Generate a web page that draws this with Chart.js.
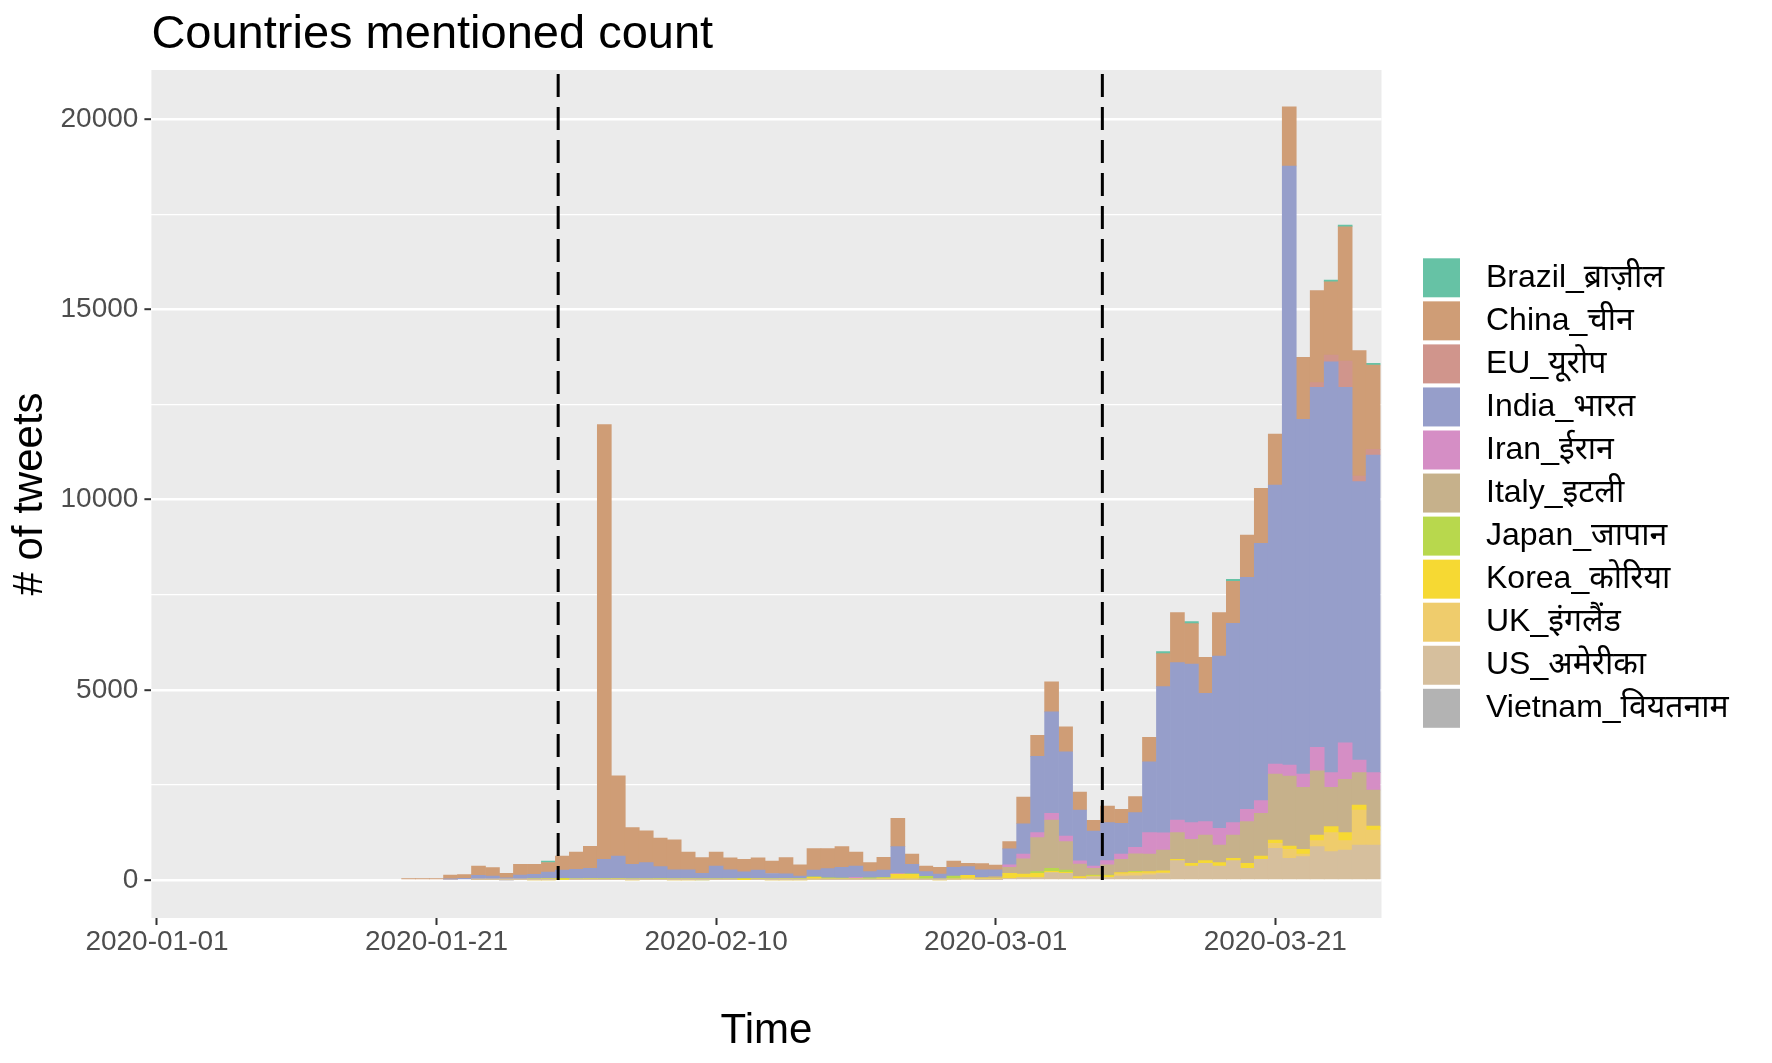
<!DOCTYPE html>
<html>
<head>
<meta charset="utf-8">
<title>Countries mentioned count</title>
<script src="https://cdn.jsdelivr.net/npm/chart.js@4"></script>
<style>
  html, body { margin: 0; padding: 0; background: #ffffff; }
  #wrap { width: 1772px; height: 1063px; }
</style>
</head>
<body>
<div id="wrap"><canvas id="chart" width="1772" height="1063"></canvas></div>
<script>
// ── Data ─────────────────────────────────────────────────────
// one bar per day, 2020-01-19 .. 2020-03-28
const dates = [
  '2020-01-19','2020-01-20','2020-01-21','2020-01-22','2020-01-23','2020-01-24','2020-01-25','2020-01-26','2020-01-27','2020-01-28',
  '2020-01-29','2020-01-30','2020-01-31','2020-02-01','2020-02-02','2020-02-03','2020-02-04','2020-02-05','2020-02-06','2020-02-07',
  '2020-02-08','2020-02-09','2020-02-10','2020-02-11','2020-02-12','2020-02-13','2020-02-14','2020-02-15','2020-02-16','2020-02-17',
  '2020-02-18','2020-02-19','2020-02-20','2020-02-21','2020-02-22','2020-02-23','2020-02-24','2020-02-25','2020-02-26','2020-02-27',
  '2020-02-28','2020-02-29','2020-03-01','2020-03-02','2020-03-03','2020-03-04','2020-03-05','2020-03-06','2020-03-07','2020-03-08',
  '2020-03-09','2020-03-10','2020-03-11','2020-03-12','2020-03-13','2020-03-14','2020-03-15','2020-03-16','2020-03-17','2020-03-18',
  '2020-03-19','2020-03-20','2020-03-21','2020-03-22','2020-03-23','2020-03-24','2020-03-25','2020-03-26','2020-03-27','2020-03-28',
];

const countries = [
  'Brazil_ब्राज़ील', 'China_चीन', 'EU_यूरोप', 'India_भारत', 'Iran_ईरान', 'Italy_इटली',
  'Japan_जापान', 'Korea_कोरिया', 'UK_इंगलैंड', 'US_अमेरीका', 'Vietnam_वियतनाम',
];
const colors = [
  '#66C2A5', '#CF9D76', '#D0958C', '#969ECA', '#D58EC5', '#C6B18B',
  '#B8D84D', '#F6D933', '#EFCC6C', '#D6BF9D', '#B3B3B3',
];

const brazil = [
  0,0,0,0,0,0,0,0,0,0,
  40,0,0,0,0,0,0,0,0,0,
  0,0,0,0,0,0,0,0,0,0,
  0,0,0,0,0,0,0,0,0,0,
  0,0,0,0,0,0,0,0,0,0,
  0,0,0,0,50,0,50,0,0,50,
  0,0,0,0,0,0,44,44,0,44,
];
const china = [
  35,35,40,110,95,245,220,115,282,262,
  250,368,457,579,11426,2105,965,834,749,785,
  465,415,369,310,330,317,330,427,295,561,
  524,544,369,237,333,745,272,149,175,167,
  88,160,124,190,700,556,792,658,470,280,
  438,368,420,639,870,1315,1063,947,1139,1107,
  1113,1446,1341,1560,1631,2418,1927,3531,3295,2217,
];
const eu = [
  0,0,0,0,0,0,0,0,0,0,
  0,0,0,0,0,0,0,0,0,0,
  0,0,0,0,0,0,0,0,0,0,
  0,0,0,0,0,0,0,0,0,0,
  0,0,0,0,0,0,0,0,0,0,
  0,0,0,0,0,0,0,0,0,0,
  0,0,0,0,0,123,176,692,149,149,
];
const india = [
  0,0,0,20,45,110,95,55,115,115,
  165,220,240,265,500,590,380,420,310,230,
  230,140,330,230,180,220,130,125,60,180,
  240,280,300,160,200,700,250,120,130,230,
  230,200,180,420,797,2006,2668,2216,1336,920,
  997,806,910,1866,3842,4136,4171,3374,4531,5240,
  6100,6766,7336,15748,9324,9466,10805,9343,7318,8352,
];
const iran = [
  0,0,0,0,0,0,0,0,0,0,
  0,0,0,0,0,0,0,0,0,0,
  0,0,0,0,0,0,0,0,0,0,
  0,0,30,0,0,20,0,0,0,0,
  0,0,0,67,127,128,175,146,88,61,
  110,140,170,561,454,333,438,350,438,324,
  324,333,262,289,351,613,386,963,333,456,
];
const italy = [
  0,0,0,0,0,0,0,0,5,0,
  0,0,0,0,0,0,0,0,0,0,
  0,0,0,0,0,0,0,0,0,0,
  0,0,0,0,0,0,0,0,0,0,
  0,20,40,158,398,897,1270,747,328,176,
  269,350,460,464,545,701,631,675,465,614,
  1095,1121,1735,1839,1629,1690,1033,1402,850,946,
];
const japan = [
  0,0,0,0,0,0,0,0,0,20,
  20,25,20,20,24,20,20,20,25,30,
  30,30,30,30,25,20,20,15,30,10,
  30,20,15,40,15,10,10,80,15,70,
  0,0,0,0,0,44,80,60,0,20,
  15,0,20,0,0,0,0,0,0,0,
  0,0,0,0,0,0,0,0,0,0,
];
const korea = [
  0,0,0,0,0,0,0,0,0,10,
  20,18,10,12,10,11,10,10,10,5,
  5,0,0,0,10,15,15,20,10,60,
  20,25,15,12,40,140,140,10,8,20,
  100,40,40,130,97,114,30,30,44,20,
  50,30,30,40,52,35,70,70,87,61,
  131,88,87,88,123,149,158,210,131,105,
];
const uk = [
  0,0,0,0,0,0,0,0,0,0,
  0,0,0,0,0,0,0,0,0,0,
  0,0,0,0,0,0,0,0,0,0,
  0,0,0,0,0,0,0,0,0,0,
  0,0,0,10,0,0,0,0,0,10,
  0,58,70,40,20,0,0,0,0,0,
  0,0,132,237,70,158,499,246,920,394,
];
const us = [
  0,0,0,0,0,10,10,5,10,5,
  5,0,10,10,10,10,5,6,6,5,
  5,5,8,10,0,8,5,5,5,13,
  10,8,8,7,8,7,12,9,5,13,
  20,10,10,35,61,61,197,173,44,81,
  66,105,110,139,170,508,368,438,368,508,
  307,543,832,569,613,876,745,788,920,920,
];
const vietnam = [
  0,0,0,0,0,0,0,0,0,0,
  0,0,0,0,0,0,0,0,0,0,
  0,0,0,0,0,0,0,0,0,0,
  0,0,0,0,0,0,0,0,0,0,
  0,0,0,0,0,0,0,0,0,0,
  0,0,0,0,0,0,0,0,0,0,
  0,0,0,0,0,0,0,0,0,0,
];

const xTickLabels = ['2020-01-01', '2020-01-21', '2020-02-10', '2020-03-01', '2020-03-21'];
const yTickValues = [0, 2500, 5000, 7500, 10000, 12500, 15000, 17500, 20000];
const vlineDays   = [28.7, 67.63];   // days after 2020-01-01

// ── Helpers ──────────────────────────────────────────────────
const DAY0 = Date.parse('2020-01-01T00:00:00Z');
const dayOf = s => (Date.parse(s + 'T00:00:00Z') - DAY0) / 86400000;
const FONT = '"Liberation Sans", Arial, "Noto Sans", sans-serif';

const series = [brazil, china, eu, india, iran, italy, japan, korea, uk, us, vietnam];

// ggplot stacks the first level on top -> feed Chart.js bottom-first
const datasets = series.map((vals, i) => ({
  label: countries[i],
  data: vals.map((v, j) => ({ x: dayOf(dates[j]), y: v === 0 ? null : v })),
  backgroundColor: colors[i],
  borderWidth: 0,
  barPercentage: 1,
  categoryPercentage: 1,
  grouped: false,
})).reverse();

// ── Plugins ──────────────────────────────────────────────────
const panelBg = {
  id: 'panelBg',
  beforeDraw(chart) {
    const { ctx, chartArea: a } = chart;
    ctx.save();
    ctx.fillStyle = '#EBEBEB';
    ctx.fillRect(a.left, a.top, a.right - a.left, a.bottom - a.top);
    ctx.restore();
  },
};

const refLines = {
  id: 'refLines',
  afterDatasetsDraw(chart) {
    const { ctx, chartArea: a, scales: { x, y } } = chart;
    ctx.save();
    ctx.strokeStyle = '#000000';
    ctx.lineWidth = 3;
    ctx.setLineDash([23, 10]);
    ctx.lineDashOffset = -4;
    vlineDays.forEach(d => {
      const px = x.getPixelForValue(d);
      ctx.beginPath();
      ctx.moveTo(px, a.top);
      ctx.lineTo(px, y.getPixelForValue(0));
      ctx.stroke();
    });
    ctx.restore();
  },
};

const sideLegend = {
  id: 'sideLegend',
  afterDraw(chart) {
    const ctx = chart.ctx;
    ctx.save();
    ctx.font = '32px ' + FONT;
    ctx.textBaseline = 'middle';
    ctx.textAlign = 'left';
    countries.forEach((name, i) => {
      const top = 258.3 + i * 43.05;
      ctx.fillStyle = colors[i];
      ctx.fillRect(1423, top, 37, 39);
      ctx.fillStyle = '#000000';
      ctx.fillText(name, 1486, top + 19.5);
    });
    ctx.restore();
  },
};

// ── Chart ────────────────────────────────────────────────────
Chart.defaults.font.family = FONT;

new Chart(document.getElementById('chart'), {
  type: 'bar',
  data: { datasets },
  options: {
    responsive: false,
    animation: false,
    devicePixelRatio: 1,
    layout: { padding: { left: 0, right: 390.5, top: 0, bottom: 0 } },
    plugins: {
      legend: { display: false },
      tooltip: { enabled: false },
      title: {
        display: true,
        text: 'Countries mentioned count',
        align: 'start',
        fullSize: false,
        color: '#000000',
        font: { size: 47, weight: 'normal', lineHeight: 1.2 },
        padding: { top: 6.5, bottom: 7.1 },
      },
    },
    scales: {
      x: {
        type: 'linear',
        min: -0.4,
        max: 87.6,
        bounds: 'data',
        offset: false,
        grid: {
          offset: false, drawOnChartArea: false, drawTicks: true,
          tickLength: 7, tickColor: '#333333', tickWidth: 2,
        },
        border: { display: false },
        ticks: {
          color: '#4D4D4D', font: { size: 28 }, padding: 0, maxRotation: 0, autoSkip: false,
          callback: (v, i) => xTickLabels[i],
        },
        afterBuildTicks: s => { s.ticks = xTickLabels.map(d => ({ value: dayOf(d) })); },
        afterFit: s => { s.height = 145; },
        title: {
          display: true, text: 'Time', color: '#000000',
          font: { size: 42, lineHeight: 1.2 }, padding: { top: 0, bottom: 6.5 },
        },
      },
      y: {
        stacked: true,
        min: -999,
        max: 21295,
        grid: {
          color: '#FFFFFF',
          lineWidth: c => (c.tick && c.tick.value % 5000 === 0 ? 2.4 : 1.2),
          tickColor: c => (c.tick && c.tick.value % 5000 === 0 ? '#333333' : 'rgba(0,0,0,0)'),
          tickLength: 7,
          tickWidth: 2,
        },
        border: { display: false },
        ticks: {
          color: '#4D4D4D', font: { size: 28 }, padding: 6, autoSkip: false,
          callback: v => (v % 5000 === 0 ? String(v) : ''),
        },
        afterBuildTicks: s => { s.ticks = yTickValues.map(v => ({ value: v })); },
        afterFit: s => { s.width = 151.4; },
        title: {
          display: true, text: '# of tweets', color: '#000000',
          font: { size: 42, lineHeight: 1.2 }, padding: { top: 5, bottom: 0 },
        },
      },
    },
  },
  plugins: [panelBg, refLines, sideLegend],
});
</script>
</body>
</html>
